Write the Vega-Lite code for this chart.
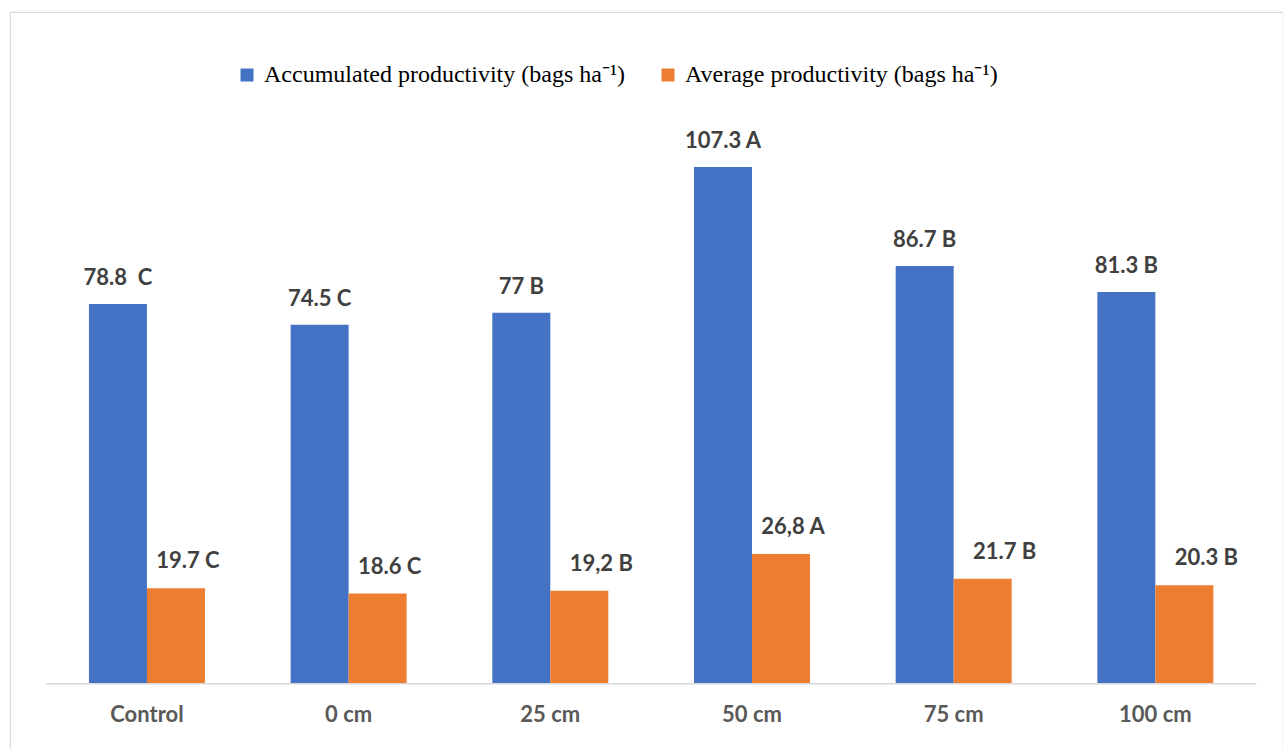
{
  "$schema": "https://vega.github.io/schema/vega-lite/v6.json",
  "width": 1273,
  "height": 745,
  "autosize": {"type": "none"},
  "padding": {"left": 10, "top": 12, "right": 0, "bottom": 0},
  "background": "white",
  "config": {"view": {"stroke": "#D9D9D9", "strokeWidth": 1.2}},
  "datasets": {
    "groups": [
      {"group": "Control"}, {"group": "0 cm"}, {"group": "25 cm"},
      {"group": "50 cm"}, {"group": "75 cm"}, {"group": "100 cm"}
    ],
    "main": [
      {"group": "Control", "series": "Accumulated productivity (bags ha⁻¹)", "value": 78.8, "label": "78.8\u00a0 C"},
      {"group": "Control", "series": "Average productivity (bags ha⁻¹)", "value": 19.7, "label": "19.7 C"},
      {"group": "0 cm", "series": "Accumulated productivity (bags ha⁻¹)", "value": 74.5, "label": "74.5 C"},
      {"group": "0 cm", "series": "Average productivity (bags ha⁻¹)", "value": 18.6, "label": "18.6 C"},
      {"group": "25 cm", "series": "Accumulated productivity (bags ha⁻¹)", "value": 77, "label": "77 B"},
      {"group": "25 cm", "series": "Average productivity (bags ha⁻¹)", "value": 19.2, "label": "19,2 B"},
      {"group": "50 cm", "series": "Accumulated productivity (bags ha⁻¹)", "value": 107.3, "label": "107.3 A"},
      {"group": "50 cm", "series": "Average productivity (bags ha⁻¹)", "value": 26.8, "label": "26,8 A"},
      {"group": "75 cm", "series": "Accumulated productivity (bags ha⁻¹)", "value": 86.7, "label": "86.7 B"},
      {"group": "75 cm", "series": "Average productivity (bags ha⁻¹)", "value": 21.7, "label": "21.7 B"},
      {"group": "100 cm", "series": "Accumulated productivity (bags ha⁻¹)", "value": 81.3, "label": "81.3 B"},
      {"group": "100 cm", "series": "Average productivity (bags ha⁻¹)", "value": 20.3, "label": "20.3 B"}
    ]
  },
  "encoding": {
    "x": {
      "field": "group",
      "type": "nominal",
      "sort": ["Control", "0 cm", "25 cm", "50 cm", "75 cm", "100 cm"],
      "scale": {"paddingInner": 0, "paddingOuter": 0.156, "align": 0.574},
      "axis": {
        "orient": "bottom",
        "offset": -74,
        "domain": false,
        "ticks": false,
        "tickSize": 0,
        "grid": false,
        "title": null,
        "labelAngle": 0,
        "labelFont": "Lato",
        "labelFontWeight": "bold",
        "labelFontSize": 22,
        "labelColor": "#595959",
        "labelPadding": 31,
        "labelBaseline": "middle"
      }
    }
  },
  "layer": [
    {
      "data": {"name": "groups"},
      "mark": {"type": "bar", "color": "#D9D9D9"},
      "encoding": {
        "y": {"datum": 0, "type": "quantitative", "scale": {"domain": [-15.38, 139.5], "nice": false, "zero": false}, "axis": null},
        "y2": {"datum": -0.3}
      }
    },
    {
      "data": {"name": "main"},
      "mark": {"type": "bar"},
      "encoding": {
        "xOffset": {"field": "series", "type": "nominal", "sort": ["Accumulated productivity (bags ha⁻¹)", "Average productivity (bags ha⁻¹)"], "scale": {"paddingInner": 0, "paddingOuter": 0.7385}},
        "y": {"field": "value", "type": "quantitative", "stack": null, "scale": {"domain": [-15.38, 139.5], "nice": false, "zero": false}, "axis": null},
        "y2": {"datum": 0},
        "color": {
          "field": "series",
          "type": "nominal",
          "scale": {"domain": ["Accumulated productivity (bags ha⁻¹)", "Average productivity (bags ha⁻¹)"], "range": ["#4472C4", "#ED7D31"]},
          "legend": {
            "orient": "none",
            "legendX": 225,
            "legendY": 51,
            "direction": "horizontal",
            "title": null,
            "symbolType": "square",
            "symbolSize": 169,
            "symbolStrokeWidth": 0,
            "labelFont": "Liberation Serif",
            "labelFontSize": 24,
            "labelColor": "#000000",
            "labelOffset": 5,
            "columnPadding": 30,
            "padding": 0,
            "labelLimit": 0
          }
        }
      }
    },
    {
      "data": {"name": "main"},
      "transform": [{"filter": "datum.series == 'Accumulated productivity (bags ha⁻¹)'"}],
      "mark": {"type": "text", "font": "Lato", "fontWeight": "bold", "fontSize": 22, "color": "#404040", "baseline": "middle", "dy": -26},
      "encoding": {
        "xOffset": {"field": "series", "type": "nominal", "sort": ["Accumulated productivity (bags ha⁻¹)", "Average productivity (bags ha⁻¹)"]},
        "y": {"field": "value", "type": "quantitative"},
        "text": {"field": "label"}
      }
    },
    {
      "data": {"name": "main"},
      "transform": [{"filter": "datum.series == 'Average productivity (bags ha⁻¹)' && (datum.group == 'Control' || datum.group == '0 cm' || datum.group == '50 cm')"}],
      "mark": {"type": "text", "font": "Lato", "fontWeight": "bold", "fontSize": 22, "color": "#404040", "baseline": "middle", "dy": -27, "dx": 12},
      "encoding": {
        "xOffset": {"field": "series", "type": "nominal", "sort": ["Accumulated productivity (bags ha⁻¹)", "Average productivity (bags ha⁻¹)"]},
        "y": {"field": "value", "type": "quantitative"},
        "text": {"field": "label"}
      }
    },
    {
      "data": {"name": "main"},
      "transform": [{"filter": "datum.series == 'Average productivity (bags ha⁻¹)' && (datum.group == '25 cm' || datum.group == '75 cm' || datum.group == '100 cm')"}],
      "mark": {"type": "text", "font": "Lato", "fontWeight": "bold", "fontSize": 22, "color": "#404040", "baseline": "middle", "dy": -27, "dx": 22},
      "encoding": {
        "xOffset": {"field": "series", "type": "nominal", "sort": ["Accumulated productivity (bags ha⁻¹)", "Average productivity (bags ha⁻¹)"]},
        "y": {"field": "value", "type": "quantitative"},
        "text": {"field": "label"}
      }
    }
  ]
}
